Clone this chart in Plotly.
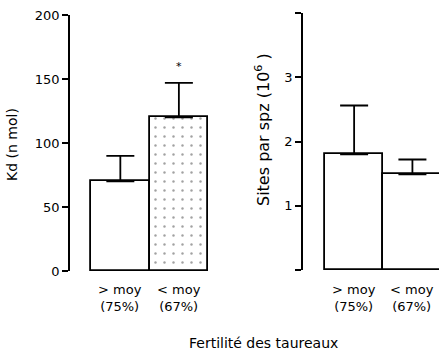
import plotly.graph_objects as go

# Data
categories = ["> moy (75%)", "< moy (67%)"]
kd_values = [70, 120]
kd_err = [20, 27]
sites_values = [1.8, 1.49]
sites_err = [0.76, 0.23]
kd_ticks = [0, 50, 100, 150, 200]
sites_tickvals = [1, 2, 3]
sites_unlabelled_ticks = [0, 4]
cat_labels = ["&gt; moy<br>(75%)", "&lt; moy<br>(67%)"]

W, H = 439, 351
FONT = "DejaVu Sans"

def px_x(p):
    return p / W

def px_y(p):
    return (H - p) / H

fig = go.Figure()

xpos = [0, 1]

# Left panel: Kd
fig.add_trace(go.Bar(
    x=xpos, y=kd_values, width=1.0,
    marker=dict(
        color=["white", "white"],
        line=dict(color="black", width=1.8),
        pattern=dict(shape=["", "."], fgcolor="#d4d4d4", size=9, solidity=0.06),
    ),
    error_y=dict(type="data", symmetric=False, array=kd_err, arrayminus=[0, 0],
                 color="black", thickness=1.8, width=14),
    xaxis="x", yaxis="y", showlegend=False,
))

# Right panel: sites
fig.add_trace(go.Bar(
    x=xpos, y=sites_values, width=1.0,
    marker=dict(color="white", line=dict(color="black", width=1.8)),
    error_y=dict(type="data", symmetric=False, array=sites_err, arrayminus=[0, 0],
                 color="black", thickness=1.8, width=14),
    xaxis="x2", yaxis="y2", showlegend=False,
))

axis_common = dict(showgrid=False, zeroline=False, automargin=False, fixedrange=True)

fig.update_layout(
    width=W, height=H,
    margin=dict(l=0, r=0, t=0, b=0),
    paper_bgcolor="white", plot_bgcolor="white",
    font=dict(family=FONT, size=13, color="black"),
    bargap=0,
    xaxis=dict(domain=[px_x(70), px_x(214)], range=[-0.86, 1.6],
               showline=False, showticklabels=False, ticks="", anchor="y", **axis_common),
    yaxis=dict(domain=[px_y(271), px_y(15)], range=[0, 200], anchor="x",
               showline=True, linecolor="black", linewidth=1.8,
               ticks="outside", ticklen=6, tickwidth=1.5, tickcolor="black",
               tickvals=kd_ticks, tickfont=dict(family=FONT, size=13), **axis_common),
    xaxis2=dict(domain=[px_x(303), 1.0], range=[-0.877, 1.456],
                showline=False, showticklabels=False, ticks="", anchor="y2", **axis_common),
    yaxis2=dict(domain=[px_y(270), px_y(13)], range=[0, 4], anchor="x2",
                showline=True, linecolor="black", linewidth=1.8,
                ticks="outside", ticklen=6, tickwidth=1.5, tickcolor="black",
                tickvals=sites_tickvals,
                minor=dict(tickvals=sites_unlabelled_ticks, ticks="outside", ticklen=6,
                           tickwidth=1.5, tickcolor="black", showgrid=False),
                tickfont=dict(family=FONT, size=13), **axis_common),
)

annotations = []
# category labels
for i, lab in enumerate(cat_labels):
    annotations.append(dict(x=xpos[i], y=px_y(298), xref="x", yref="paper", text=lab,
                            showarrow=False, font=dict(family=FONT, size=13),
                            xanchor="center", yanchor="middle"))
    annotations.append(dict(x=xpos[i], y=px_y(298), xref="x2", yref="paper", text=lab,
                            showarrow=False, font=dict(family=FONT, size=13),
                            xanchor="center", yanchor="middle"))
# significance
annotations.append(dict(x=1, y=160, xref="x", yref="y", text="*", showarrow=False,
                        font=dict(family=FONT, size=11), xanchor="center", yanchor="middle"))
# axis titles
annotations.append(dict(x=px_x(12), y=px_y(145), xref="paper", yref="paper",
                        text="Kd (n mol)", textangle=-90, showarrow=False,
                        font=dict(family=FONT, size=14), xanchor="center", yanchor="middle"))
annotations.append(dict(x=px_x(262), y=px_y(130), xref="paper", yref="paper",
                        text="Sites par spz (10<sup>6</sup> )", textangle=-90, showarrow=False,
                        font=dict(family=FONT, size=16), xanchor="center", yanchor="middle"))
annotations.append(dict(x=px_x(263), y=px_y(343), xref="paper", yref="paper",
                        text="Fertilité des taureaux", showarrow=False,
                        font=dict(family=FONT, size=14), xanchor="center", yanchor="middle"))
fig.update_layout(annotations=annotations)

fig.write_html("out.html")
